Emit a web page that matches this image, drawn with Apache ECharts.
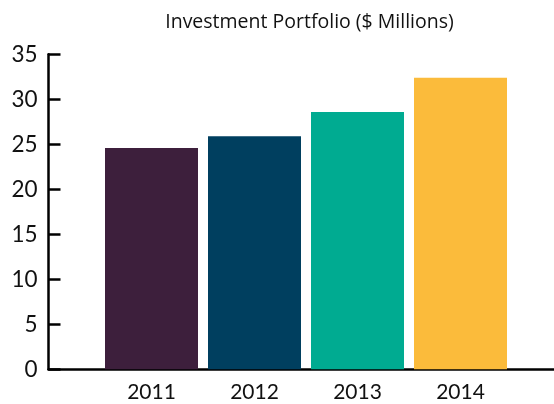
<!DOCTYPE html>
<html>
<head>
<meta charset="utf-8">
<script src="https://cdn.jsdelivr.net/npm/echarts@6/dist/echarts.min.js"></script>
<style>
  html, body { margin: 0; padding: 0; background: #fff; }
  #chart { width: 554px; height: 404px; }
</style>
</head>
<body>
<div id="chart"></div>
<script>
// data
const years = ['2011', '2012', '2013', '2014']
const values = [24.6, 25.9, 28.6, 32.4]
const barColors = ['#3d1f3c', '#003f5f', '#00ab91', '#fbbb3b']
const yTicks = [0, 5, 10, 15, 20, 25, 30, 35]

// bars sit on slots 1..4 of a plain value axis, so the x axis line can run on past the last bar
const seriesData = values.map((v, i) => ({
  value: [i + 1, v],
  itemStyle: { color: barColors[i] }
}))

const myChart = echarts.init(document.getElementById('chart'), null, { renderer: 'canvas' })
myChart.setOption({
  animation: false,
  textStyle: { fontFamily: 'Lato' },
  title: {
    text: 'Investment Portfolio ($ Millions)',
    left: 304.5,
    textAlign: 'center',
    top: 7,
    textStyle: {
      fontFamily: 'Open Sans',
      fontSize: 19.5,
      fontWeight: 500,
      color: '#111'
    }
  },
  grid: {
    left: 48.5,
    right: 0,
    top: 54.3,
    bottom: 34.7,
    containLabel: false
  },
  xAxis: {
    type: 'value',
    min: 0,
    max: 505.5 / 103,
    interval: 1,
    axisLine: { show: true, lineStyle: { color: '#000', width: 2.5 } },
    axisTick: { show: false },
    axisLabel: {
      color: '#111',
      fontSize: 21,
      margin: 12,
      showMaxLabel: false,
      formatter: v => years[v - 1] || ''
    },
    splitLine: { show: false }
  },
  yAxis: {
    type: 'value',
    min: yTicks[0],
    max: yTicks[yTicks.length - 1],
    interval: 5,
    axisLine: { show: true, lineStyle: { color: '#000', width: 2.5 } },
    axisTick: { show: true, inside: true, length: 12, lineStyle: { color: '#000', width: 2.5 } },
    axisLabel: {
      color: '#111',
      fontSize: 22.5,
      margin: 11
    },
    splitLine: { show: false }
  },
  series: [
    {
      type: 'bar',
      barWidth: 93,
      data: seriesData
    }
  ]
})
</script>
</body>
</html>
